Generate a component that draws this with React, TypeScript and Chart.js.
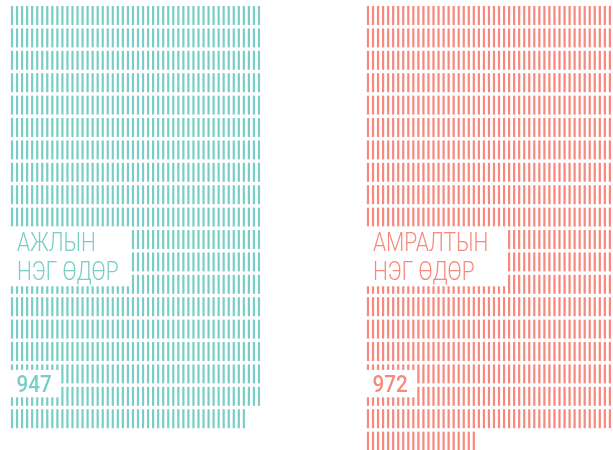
import React, { useEffect, useRef } from "react";
import { Chart, registerables } from "chart.js";

Chart.register(...registerables);

const categories = ["АЖЛЫН НЭГ ӨДӨР", "АМРАЛТЫН НЭГ ӨДӨР"];
const labelLines = [["АЖЛЫН", "НЭГ ӨДӨР"], ["АМРАЛТЫН", "НЭГ ӨДӨР"]];
const values = [947, 972];
const colors = ["#78cec6", "#f7887d"];
const perRow = 50;
const blockOffsets = [0, 70.63];

function buildPoints(count: number, offset: number) {
  const pts: { x: number; y: number }[] = [];
  for (let i = 0; i < count; i++) {
    pts.push({ x: offset + (i % perRow), y: Math.floor(i / perRow) });
  }
  return pts;
}

const labelPlugin = {
  id: "unitLabels",
  afterDatasetsDraw(chart: any) {
    const ctx = chart.ctx;
    const xs = chart.scales.x;
    const ys = chart.scales.y;
    const boxW = [122, 142];
    const numW = [52, 52];
    categories.forEach((_, i) => {
      const bx = xs.getPixelForValue(blockOffsets[i]);
      const ry = (r: number) => ys.getPixelForValue(r);
      ctx.save();
      ctx.fillStyle = "#ffffff";
      const top1 = ry(9) + 9.5;
      const bot1 = ry(12) + 2;
      ctx.fillRect(bx - 4, top1, boxW[i], bot1 - top1);
      const top2 = ry(16) - 4;
      const bot2 = ry(17) + 1;
      ctx.fillRect(bx - 4, top2, numW[i], bot2 - top2);
      ctx.fillStyle = colors[i];
      ctx.textBaseline = "alphabetic";
      ctx.font = "300 25px Roboto";
      labelLines[i].forEach((t, k) => {
        ctx.save();
        ctx.translate(bx + 5, top1 + 24 + k * 29);
        ctx.scale(0.84, 1);
        ctx.fillText(t, 0, 0);
        ctx.restore();
      });
      ctx.save();
      ctx.font = "500 24px Roboto";
      ctx.translate(bx + 4.5, bot2 - 5);
      ctx.scale(0.86, 1);
      ctx.fillText(String(values[i]), 0, 0);
      ctx.restore();
      ctx.restore();
    });
  },
};

export default function App() {
  const ref = useRef<HTMLCanvasElement>(null);
  useEffect(() => {
    document.body.style.margin = "0";
    const chart = new Chart(ref.current!, {
      type: "scatter",
      data: {
        datasets: values.map((v, i) => ({
          label: categories[i],
          data: buildPoints(v, blockOffsets[i]),
          pointStyle: "line",
          rotation: 90,
          radius: 9.5,
          hoverRadius: 9.5,
          borderWidth: 2.2,
          borderColor: colors[i],
          backgroundColor: colors[i],
        })),
      },
      options: {
        animation: false,
        responsive: false,
        maintainAspectRatio: false,
        layout: { padding: 0, autoPadding: false },
        plugins: { legend: { display: false }, tooltip: { enabled: false } },
        events: [],
        scales: {
          x: { type: "linear", display: false, min: -2.381, max: 119.246 },
          y: { type: "linear", display: false, reverse: true, min: -0.692, max: 19.397 },
        },
      },
      plugins: [labelPlugin],
    });
    return () => chart.destroy();
  }, []);
  return (
    <div style={{ width: 613, height: 450 }}>
      <canvas ref={ref} width={613} height={450} style={{ display: "block" }} />
    </div>
  );
}
